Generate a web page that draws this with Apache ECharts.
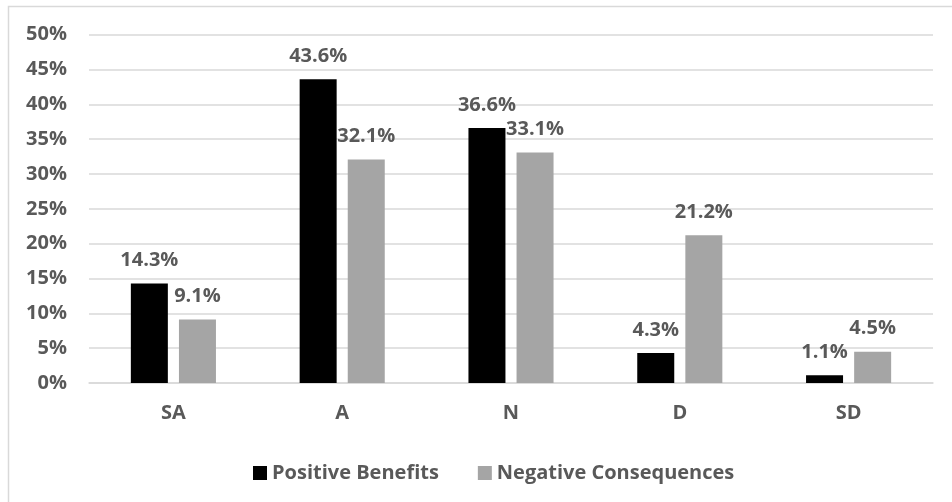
<!DOCTYPE html>
<html>
<head>
<meta charset="utf-8">
<script src="https://cdn.jsdelivr.net/npm/echarts@6/dist/echarts.min.js"></script>
<style>
  html, body { margin: 0; padding: 0; background: #ffffff; }
  #chart { width: 952px; height: 502px; }
</style>
</head>
<body>
<div id="chart"></div>
<script>
// Survey responses (percent of respondents)
const categories = ['SA', 'A', 'N', 'D', 'SD'];
const positiveBenefits = [14.3, 43.6, 36.6, 4.3, 1.1];
const negativeConsequences = [9.1, 32.1, 33.1, 21.2, 4.5];
const seriesNames = ['Positive Benefits', 'Negative Consequences'];

const FONT = '"Open Sans", "DejaVu Sans", sans-serif';
const TEXT = '#595959';

const chart = echarts.init(document.getElementById('chart'), null, { renderer: 'canvas' });

const labelStyle = {
  show: true,
  position: 'top',
  distance: 13,
  color: TEXT,
  fontFamily: FONT,
  fontWeight: 'bold',
  fontSize: 20,
  formatter: p => p.value.toFixed(1) + '%'
};

chart.setOption({
  animation: false,
  backgroundColor: '#ffffff',
  graphic: [{
    type: 'rect',
    shape: { x: 8.5, y: 6.5, width: 1000, height: 600 },
    style: { fill: 'none', stroke: '#d9d9d9', lineWidth: 1.5 },
    silent: true,
    z: -1
  }],
  grid: { left: 89, right: 19, top: 34.7, bottom: 119, containLabel: false },
  legend: {
    data: seriesNames,
    top: 458,
    left: 248,
    itemWidth: 14,
    itemHeight: 14,
    itemGap: 39,
    icon: 'rect',
    textStyle: { color: TEXT, fontFamily: FONT, fontWeight: 'bold', fontSize: 20 }
  },
  xAxis: {
    type: 'category',
    data: categories,
    axisLine: { show: true, lineStyle: { color: '#d9d9d9', width: 1.5 } },
    axisTick: { show: false },
    axisLabel: { color: TEXT, fontFamily: FONT, fontWeight: 'bold', fontSize: 20, margin: 20 }
  },
  yAxis: {
    type: 'value',
    min: 0,
    max: 50,
    interval: 5,
    axisLine: { show: false },
    axisTick: { show: false },
    axisLabel: {
      color: TEXT, fontFamily: FONT, fontWeight: 'bold', fontSize: 20, margin: 22,
      formatter: v => v + '%'
    },
    splitLine: { lineStyle: { color: '#d9d9d9', width: 1.5 } }
  },
  series: [
    {
      name: seriesNames[0],
      type: 'bar',
      data: positiveBenefits,
      barWidth: 37,
      barGap: '30%',
      itemStyle: { color: '#000000' },
      label: labelStyle
    },
    {
      name: seriesNames[1],
      type: 'bar',
      data: negativeConsequences,
      barWidth: 37,
      barGap: '30%',
      itemStyle: { color: '#a5a5a5' },
      label: labelStyle
    }
  ]
});
</script>
</body>
</html>
